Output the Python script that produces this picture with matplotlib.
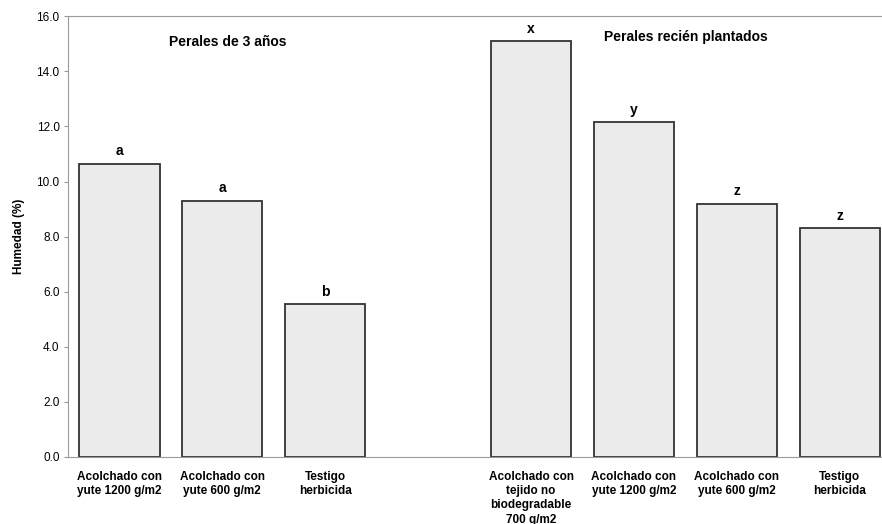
import numpy as np
import matplotlib
matplotlib.use("Agg")
import matplotlib.pyplot as plt

# =========================
# DATOS
# =========================
categorias = [
    "Acolchado con\nyute 1200 g/m2",
    "Acolchado con\nyute 600 g/m2",
    "Testigo\nherbicida",
    "",
    "Acolchado con\ntejido no\nbiodegradable\n700 g/m2",
    "Acolchado con\nyute 1200 g/m2",
    "Acolchado con\nyute 600 g/m2",
    "Testigo\nherbicida",
]
humedad = [10.65, 9.3, 5.55, np.nan, 15.1, 12.15, 9.2, 8.3]
letras = ["a", "a", "b", "", "x", "y", "z", "z"]

plt.rcParams['font.family'] = ['Liberation Sans', 'DejaVu Sans']

fig = plt.figure(figsize=(8.82, 5.24), dpi=100)
ax = fig.add_axes([0.077, 0.128, 0.923, 0.841])

x = np.arange(len(categorias))
mask = ~np.isnan(humedad)
vals = np.array(humedad)
ax.bar(x[mask], vals[mask], width=0.78, color="#ebebeb",
       edgecolor="#333333", linewidth=1.3, zorder=2)

for xi, v, l in zip(x, vals, letras):
    if l:
        ax.text(xi, v + 0.2, l, ha="center", va="bottom",
                fontsize=10, fontweight="bold")

ax.set_xlim(-0.5, 7.41)
ax.set_ylim(0, 16)
ax.set_yticks(np.arange(0, 16.1, 2))
ax.set_yticklabels([f"{t:.1f}" for t in np.arange(0, 16.1, 2)], fontsize=8.5)
ax.set_xticks(x)
ax.set_xticklabels(categorias, fontsize=8.5, fontweight="bold", linespacing=1.25)
ax.tick_params(axis="x", length=0, pad=10)
ax.tick_params(axis="y", length=3, color="#999999", pad=3)

for s in ["left", "bottom", "top"]:
    ax.spines[s].set_color("#9a9a9a")
    ax.spines[s].set_linewidth(0.8)
ax.spines["right"].set_visible(False)
ax.spines["top"].set_linestyle((0, (1, 1)))
ax.spines["left"].set_linestyle((0, (1, 1)))

ax.set_ylabel("Humedad (%)", fontsize=8.5, fontweight="bold", labelpad=8)

ax.text(1.05, 15.05, "Perales de 3 años", ha="center", va="center",
        fontsize=10, fontweight="bold")
ax.text(5.5, 15.25, "Perales recién plantados", ha="center", va="center",
        fontsize=10, fontweight="bold")

fig.savefig("out.png", dpi=100)
